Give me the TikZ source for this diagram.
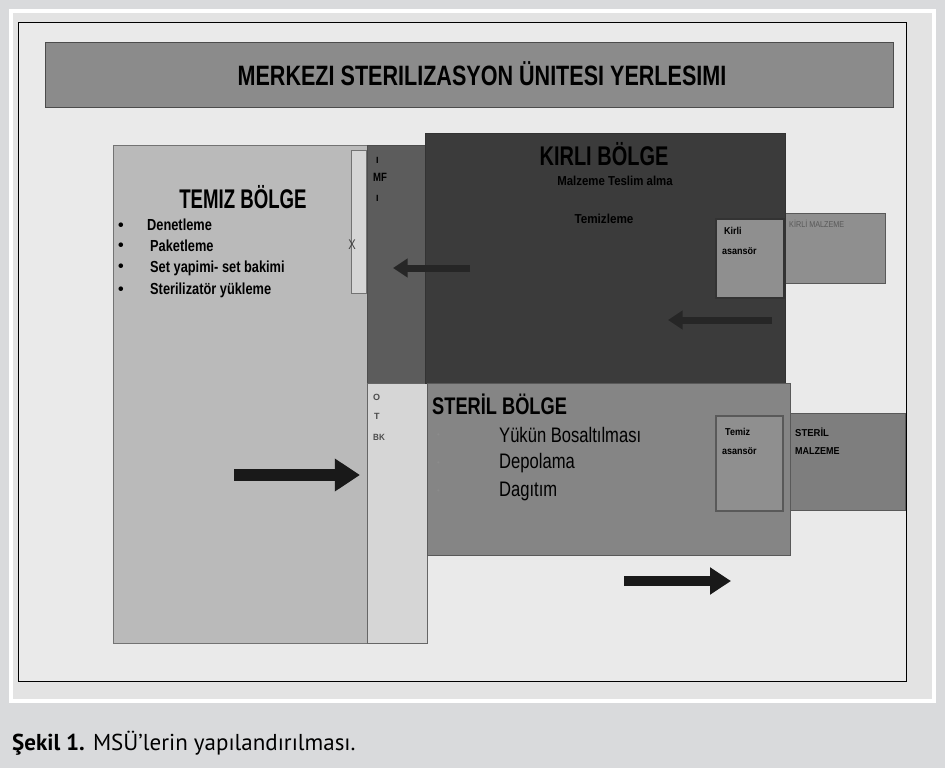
\documentclass[tikz,border=0pt]{standalone}
\usepackage{fontspec}
\usepackage{graphicx}
\setmainfont{Liberation Sans}
\newfontfamily\capfont{PT Sans}
\usetikzlibrary{arrows.meta}
\newcommand\sqz[2]{\scalebox{#1}[1]{#2}}
\definecolor{pagebg}{HTML}{D9DADC}
\definecolor{framebg}{HTML}{E3E3E3}
\definecolor{slidebg}{HTML}{EAEAEA}
\definecolor{titlec}{HTML}{8B8B8B}
\definecolor{temizc}{HTML}{BABABA}
\definecolor{kirlic}{HTML}{3B3B3B}
\definecolor{midc}{HTML}{5C5C5C}
\definecolor{sterilc}{HTML}{858585}
\definecolor{boxc}{HTML}{8F8F8F}
\definecolor{stripc}{HTML}{D6D6D6}
\tikzset{
  zone/.style={draw=#1, line width=1.2pt, anchor=north west, inner sep=0pt},
  zone/.default={black!60},
  fatarrow/.style={line width=#1, -{Triangle[length=2.1*#1,width=2.6*#1]}, draw=black!90},
  lbl/.style={anchor=west, inner sep=0pt, font=\bfseries\fontsize{16}{16}\selectfont},
  bul/.style={anchor=west, inner sep=0pt, font=\bfseries\fontsize{16}{16}\selectfont},
  tiny/.style={anchor=west, inner sep=0pt, font=\bfseries\fontsize{10}{10}\selectfont},
  item/.style={anchor=west, inner sep=0pt, font=\fontsize{21}{21}\selectfont},
}
\begin{document}
\begin{tikzpicture}[x=1pt,y=-1pt]
\useasboundingbox (0,0) rectangle (945,768);
\fill[pagebg] (0,0) rectangle (945,768);
\draw[white, line width=4pt, fill=framebg] (11,11) rectangle (934,701);
\draw[black, line width=0.8pt, fill=slidebg] (18,22) rectangle (906,681);
% title bar
\node[zone=black!70, fill=titlec, minimum width=848pt, minimum height=65pt] (title) at (45,42) {};
\node[inner sep=0pt, font=\bfseries\fontsize{28}{28}\selectfont] (titletxt) at (482,74) {\sqz{0.77}{MERKEZI STERILIZASYON ÜNITESI YERLESIMI}};
% right boxes behind
\node[zone=black!65, fill=boxc, minimum width=100pt, minimum height=70pt] (kmalz) at (785,213) {};
\node[zone=black!65, fill=sterilc!95!black, minimum width=123pt, minimum height=97pt] (smalz) at (782,413) {};
% temiz
\node[zone=black!55, fill=temizc, minimum width=254pt, minimum height=498pt] (temiz) at (113,145) {};
\node[zone=black!55, fill=stripc, minimum width=15pt, minimum height=143pt] (door) at (351,150) {};
% middle strips
\node[zone=black!70, fill=midc, minimum width=60pt, minimum height=238pt] (mid) at (367,145) {};
\node[zone=black!60, fill=stripc, minimum width=60pt, minimum height=260pt] (otbk) at (367,383) {};
% kirli
\node[zone=black!80, fill=kirlic, minimum width=360pt, minimum height=250pt] (kirli) at (425,133) {};
\node[zone=black!80, line width=2pt, fill=boxc, minimum width=68pt, minimum height=79pt] (kasans) at (715,218) {};
% steril
\node[zone=black!65, fill=sterilc, minimum width=363pt, minimum height=172pt] (steril) at (427,383) {};
\node[zone=black!65, line width=2pt, fill=boxc, minimum width=67pt, minimum height=95pt] (tasans) at (715,415) {};
% temiz texts
\node[inner sep=0pt, font=\bfseries\fontsize{27}{27}\selectfont] (temizt) at (243,197) {\sqz{0.69}{TEMIZ BÖLGE}};
\node[bul] (b1) at (118,227) {•};
\node[bul] (b2) at (118,247) {•};
\node[bul] (b3) at (118,268) {•};
\node[bul] (b4) at (118,291) {•};
\node[lbl] (t1) at (147,225) {\sqz{0.8}{Denetleme}};
\node[lbl] (t2) at (150,246) {\sqz{0.8}{Paketleme}};
\node[lbl] (t3) at (150,268) {\sqz{0.8}{Set yapimi- set bakimi}};
\node[lbl] (t4) at (150,290) {\sqz{0.8}{Sterilizatör yükleme}};
\node[inner sep=0pt, font=\fontsize{14}{14}\selectfont, text=black!75] (doorx) at (352,245) {\sqz{0.8}{X}};
% mid strip texts
\node[tiny, font=\bfseries\fontsize{9}{9}\selectfont] (m1) at (376,160) {I};
\node[tiny, font=\bfseries\fontsize{12}{12}\selectfont] (m2) at (373,177) {\sqz{0.8}{MF}};
\node[tiny, font=\bfseries\fontsize{9}{9}\selectfont] (m3) at (376,198) {I};
\node[tiny, font=\bfseries\fontsize{9}{9}\selectfont, text=black!70] (o1) at (373,397) {O};
\node[tiny, font=\bfseries\fontsize{9}{9}\selectfont, text=black!70] (o2) at (374,416) {T};
\node[tiny, font=\bfseries\fontsize{9}{9}\selectfont, text=black!70] (o3) at (373,437) {\sqz{0.9}{BK}};
% kirli texts
\node[inner sep=0pt, font=\bfseries\fontsize{27}{27}\selectfont] (kirlit) at (604,154) {\sqz{0.74}{KIRLI BÖLGE}};
\node[inner sep=0pt, font=\bfseries\fontsize{13}{13}\selectfont] (kt1) at (615,181) {\sqz{0.88}{Malzeme Teslim alma}};
\node[inner sep=0pt, font=\bfseries\fontsize{13}{13}\selectfont] (kt2) at (604,219) {\sqz{0.9}{Temizleme}};
\node[tiny] (ka1) at (724,231) {\sqz{0.9}{Kirli}};
\node[tiny] (ka2) at (722,251) {\sqz{0.9}{asansör}};
\node[tiny, font=\fontsize{8.5}{8.5}\selectfont, text=black!65] (km) at (789,224) {\sqz{0.85}{KİRLİ MALZEME}};
% steril texts
\node[anchor=west, inner sep=0pt, font=\bfseries\fontsize{24}{24}\selectfont] (sterilt) at (432,404) {\sqz{0.76}{STERİL BÖLGE}};
\node[anchor=west, inner sep=0pt, text=black!45, font=\fontsize{8}{8}\selectfont] (sb1) at (437,436) {•};
\node[anchor=west, inner sep=0pt, text=black!45, font=\fontsize{8}{8}\selectfont] (sb2) at (437,464) {•};
\node[anchor=west, inner sep=0pt, text=black!45, font=\fontsize{8}{8}\selectfont] (sb3) at (437,492) {•};
\node[item] (s1) at (499,435) {\sqz{0.79}{Yükün Bosaltılması}};
\node[item] (s2) at (499,463) {\sqz{0.79}{Depolama}};
\node[item] (s3) at (499,491) {\sqz{0.79}{Dagıtım}};
\node[tiny] (ta1) at (725,432) {\sqz{0.9}{Temiz}};
\node[tiny] (ta2) at (722,451) {\sqz{0.9}{asansör}};
\node[tiny] (sm1) at (795,432) {\sqz{0.95}{STERİL}};
\node[tiny] (sm2) at (795,451) {\sqz{0.9}{MALZEME}};
% arrows
\coordinate (a1s) at (234,475); \coordinate (a1e) at (360,475);
\coordinate (a2s) at (624,581); \coordinate (a2e) at (731,581);
\coordinate (a3s) at (772,320); \coordinate (a3e) at (668,320);
\coordinate (a4s) at (470,268); \coordinate (a4e) at (393,268);
\draw[fatarrow=12pt] (a1s) -- (a1e);
\draw[fatarrow=10pt] (a2s) -- (a2e);
\draw[fatarrow=7pt, draw=black!85] (a3s) -- (a3e);
\draw[fatarrow=7pt, draw=black!85] (a4s) -- (a4e);
% caption
\fill[pagebg] (0,712) rectangle (945,768);
\node[anchor=base west, inner sep=0pt, font=\capfont\fontsize{23}{23}\selectfont] (cap) at (12,750) {\textbf{Şekil 1.} MSÜ’lerin yapılandırılması.};
\end{tikzpicture}
\end{document}
